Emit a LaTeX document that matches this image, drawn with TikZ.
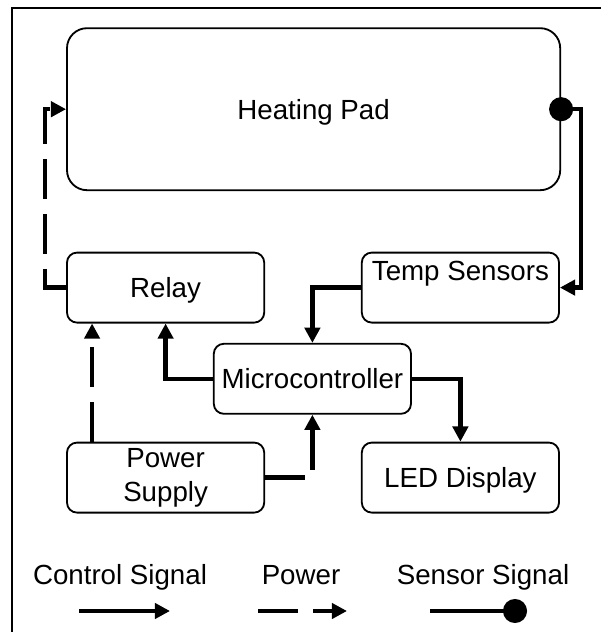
\documentclass[tikz,border=0pt]{standalone}
\usepackage{fontspec}
\setmainfont{Liberation Sans}
\usetikzlibrary{arrows.meta, positioning, calc}
\newcommand{\diagfont}{\fontsize{19.7}{24.2}\selectfont}
\tikzset{
    % Node styles - rounded corners
    padbox/.style={
        rectangle,
        draw=black,
        rounded corners=0.5cm,
        line width=1.3pt,
        minimum width=12.33cm,
        minimum height=4.05cm,
        text height=0.5cm,
        text depth=0cm,
        font=\diagfont
    },
    blockbox/.style={
        rectangle,
        draw=black,
        rounded corners=0.25cm,
        line width=1.3pt,
        minimum width=4.93cm,
        minimum height=1.75cm,
        inner xsep=0.1cm,
        text height=0.5cm,
        text depth=0cm,
        align=center,
        font=\diagfont
    },
    legendtext/.style={
        anchor=base,
        font=\diagfont
    },
    % Arrow styles
    ctrlarrow/.style={
        -{Triangle[length=0.38cm,width=0.38cm]},
        line width=3.2pt
    },
    powerarrow/.style={
        ctrlarrow,
        dash pattern=on 1cm off 0.375cm
    },
    sensorarrow/.style={
        {Circle[length=0.6cm]}-{Triangle[length=0.38cm,width=0.38cm]},
        line width=3.2pt
    },
    sensorline/.style={
        -{Circle[length=0.6cm]},
        line width=3.2pt
    }
}

\begin{document}
\begin{tikzpicture}
    \useasboundingbox (0,0) rectangle (15,15.8);
    % Frame
    \draw[line width=1.1pt] (0.3,-1) |- (16,15.6);

    % Blocks
    \node[padbox] (heat) at (7.84,13.07) {Heating Pad};
    \node[blockbox] (relay) at (4.14,8.61) {Relay};
    \node[blockbox,text height=0.71cm,text depth=1.04cm,inner ysep=0pt] (temp) at (11.51,8.61) {Temp Sensors};
    \node[blockbox] (micro) at (7.81,6.33) {Microcontroller};
    \node[blockbox,text height=,text depth=] (power) at (4.14,3.86) {Power\\Supply};
    \node[blockbox] (led) at (11.51,3.86) {LED Display};

    % Connectors
    \draw[powerarrow] (relay.west) -- ++(-0.53,0) |- (heat.west);
    \draw[sensorarrow] ([xshift=-0.3cm]heat.east) -- ++(0.8,0) |- (temp.east);
    \draw[ctrlarrow] (temp.west) -| (micro.north);
    \draw[ctrlarrow] (micro.west) -| (relay.south);
    \draw[ctrlarrow] (micro.east) -| (led.north);
    \draw[powerarrow] ([xshift=0.65cm]power.north west) -- ([xshift=0.65cm]relay.south west);
    \draw[powerarrow] (power.east) -| (micro.south);

    % Legend
    \node[legendtext] (ctltxt) at (3.0,1.175) {Control Signal};
    \node[legendtext] (pwrtxt) at (7.525,1.175) {Power};
    \node[legendtext] (sentxt) at (12.075,1.175) {Sensor Signal};
    \coordinate (ctla) at (1.975,0.525);
    \coordinate (ctlb) at (4.25,0.525);
    \coordinate (pwra) at (6.45,0.525);
    \coordinate (pwrb) at (8.675,0.525);
    \coordinate (sena) at (10.75,0.525);
    \coordinate (senb) at (13.175,0.525);
    \draw[ctrlarrow] (ctla) -- (ctlb);
    \draw[powerarrow] (pwra) -- (pwrb);
    \draw[sensorline] (sena) -- (senb);
\end{tikzpicture}
\end{document}
